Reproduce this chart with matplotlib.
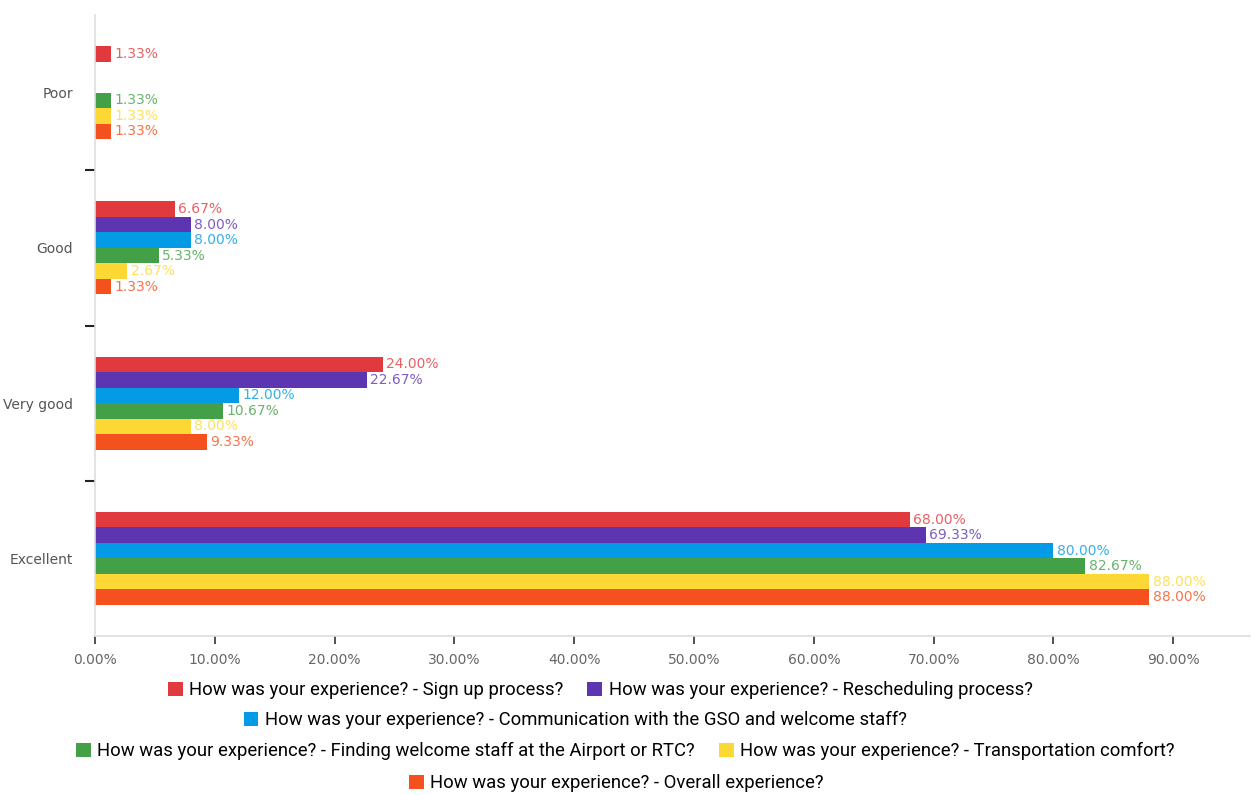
import numpy as np
import matplotlib.pyplot as plt
from matplotlib.patches import Patch
from matplotlib.colors import to_rgb

# categories (top to bottom)
categories = ['Poor', 'Good', 'Very good', 'Excellent']

series_names = [
    'How was your experience? - Sign up process?',
    'How was your experience? - Rescheduling process?',
    'How was your experience? - Communication with the GSO and welcome staff?',
    'How was your experience? - Finding welcome staff at the Airport or RTC?',
    'How was your experience? - Transportation comfort?',
    'How was your experience? - Overall experience?',
]

sign_up = [1.33, 6.67, 24.00, 68.00]
rescheduling = [0, 8.00, 22.67, 69.33]
communication = [0, 8.00, 12.00, 80.00]
finding_staff = [1.33, 5.33, 10.67, 82.67]
transportation = [1.33, 2.67, 8.00, 88.00]
overall = [1.33, 1.33, 9.33, 88.00]

series = [sign_up, rescheduling, communication, finding_staff, transportation, overall]
colors = ['#e03a3e', '#5e35b1', '#039be5', '#43a047', '#fdd835', '#f4511e']

x_ticks = [0, 10, 20, 30, 40, 50, 60, 70, 80, 90]


def lighten(c, f=0.2):
    r, g, b = to_rgb(c)
    return (r + (1 - r) * f, g + (1 - g) * f, b + (1 - b) * f)


fig = plt.figure(figsize=(12.53, 7.95), dpi=100)
ax = fig.add_axes([0.0758, 0.2, 0.9218, 0.7811])

y = np.arange(len(categories))
h = 0.1
for i, (vals, col) in enumerate(zip(series, colors)):
    pos = y + (i - 2.5) * h
    for p, v in zip(pos, vals):
        if v <= 0:
            continue
        ax.barh(p, v, height=h, color=col, edgecolor='none')
        ax.text(v + 0.3, p, f'{v:.2f}%', va='center', ha='left',
                fontsize=10, color=lighten(col))

ax.set_ylim(3.5, -0.5)
ax.set_xlim(0, 96.4)

ax.set_yticks(y)
ax.set_yticklabels(categories, fontsize=10, color='#555555')
ax.tick_params(axis='y', which='major', length=0, pad=16)
ax.set_yticks([0.5, 1.5, 2.5], minor=True)
ax.tick_params(axis='y', which='minor', length=7, width=1.5, color='#222222')

ax.set_xticks(x_ticks)
ax.set_xticklabels([f'{t:.2f}%' for t in x_ticks], fontsize=10, color='#666666')
ax.tick_params(axis='x', length=6, width=1.2, color='#333333', pad=6)

for s in ['top', 'right']:
    ax.spines[s].set_visible(False)
ax.spines['left'].set_color('#dddddd')
ax.spines['bottom'].set_color('#dddddd')
ax.spines['left'].set_linewidth(1.2)
ax.spines['bottom'].set_linewidth(1.2)

# legend rows
rows = [([0, 1], 0.479, 0.132), ([2], 0.459, 0.0943), ([3, 4], 0.499, 0.0553), ([5], 0.492, 0.0151)]
for idx, cx, cy in rows:
    handles = [Patch(facecolor=colors[k], edgecolor='none', label=series_names[k]) for k in idx]
    fig.legend(handles=handles, loc='center', bbox_to_anchor=(cx, cy), ncol=len(idx),
               frameon=False, handlelength=0.8, handleheight=0.8,
               handletextpad=0.35, columnspacing=1.3,
               prop={'family': 'Roboto', 'size': 13.3})

fig.savefig('out.png', dpi=100)
